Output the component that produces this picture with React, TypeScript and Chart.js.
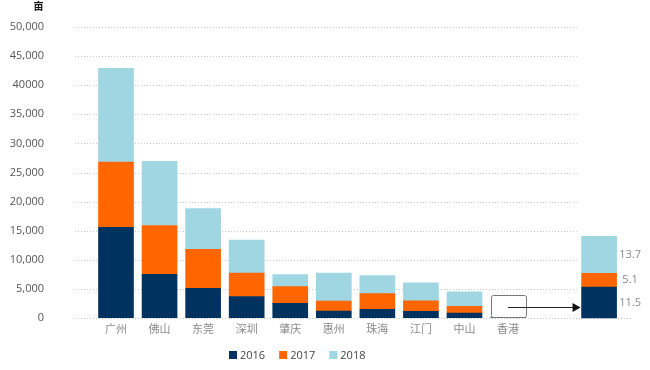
import React, { useEffect, useRef } from 'react';
import { Chart, registerables } from 'chart.js';

Chart.register(...registerables);

// ---- data ----
const cities = ['广州', '佛山', '东莞', '深圳', '肇庆', '惠州', '珠海', '江门', '中山', '香港'];
const years = ['2016', '2017', '2018'];
const v2016 = [15600, 7500, 5100, 3700, 2500, 1200, 1500, 1150, 850, 11.5];
const v2017 = [11200, 8400, 6700, 4000, 2900, 1700, 2700, 1800, 1150, 5.1];
const v2018 = [16100, 11000, 7000, 5700, 2050, 4800, 3100, 3100, 2500, 13.7];
const hkValues = [11.5, 5.1, 13.7];
const yTickLabels = ['0', '5,000', '10,000', '15,000', '20,000', '25,000', '30,000', '35,000', '40000', '45,000', '50,000'];
const unitLabel = '亩';

// ---- layout / style constants ----
const colors = ['#00325f', '#ff6600', '#9fd6e2'];
const FONT = "'Open Sans', 'Noto Sans CJK SC', sans-serif";
const X_MIN = -1.561;
const X_MAX = 12.259;
const GRID_START = -0.94;
const HK_ZOOM_X = 11.09;
const HK_SCALE_MAX = 108;
const GRID_END = 10.58;
const ZERO_LINE_END = 11.87;
const HK_BOX_TOP = 3900;
const ARROW_Y = 1900;
const BAR_W = 35;

const decor = {
  id: 'decor',
  beforeDatasetsDraw(chart: any) {
    const { ctx, scales } = chart;
    const x = scales.x;
    const y = scales.y;
    ctx.save();
    ctx.strokeStyle = '#c4c4c4';
    ctx.lineWidth = 1;
    ctx.setLineDash([1, 2]);
    const startX = x.getPixelForValue(GRID_START);
    y.ticks.forEach((t: any) => {
      const py = Math.round(y.getPixelForValue(t.value)) + 0.5;
      const endX = t.value === 0 ? x.getPixelForValue(ZERO_LINE_END) : x.getPixelForValue(GRID_END);
      ctx.beginPath();
      ctx.moveTo(startX, py);
      ctx.lineTo(endX, py);
      ctx.stroke();
    });
    ctx.restore();
  },
  afterDraw(chart: any) {
    const { ctx, scales } = chart;
    const x = scales.x;
    const y = scales.y;
    const y2 = scales.y2;
    ctx.save();

    // unit label
    ctx.fillStyle = '#111';
    ctx.font = `bold 10px ${FONT}`;
    ctx.textAlign = 'center';
    ctx.textBaseline = 'middle';
    ctx.fillText(unitLabel, 38.5, 7);

    // Hong Kong box
    const cx = x.getPixelForValue(9);
    const top = y.getPixelForValue(HK_BOX_TOP);
    const bottom = y.getPixelForValue(0);
    ctx.strokeStyle = '#777';
    ctx.lineWidth = 1;
    ctx.beginPath();
    const bx = Math.round(cx - BAR_W / 2) + 0.5;
    const by = Math.round(top) + 0.5;
    const bh = Math.round(bottom - top) - 1;
    if ((ctx as any).roundRect) {
      (ctx as any).roundRect(bx, by, BAR_W, bh, 2);
    } else {
      ctx.rect(bx, by, BAR_W, bh);
    }
    ctx.stroke();

    // arrow
    const ay = Math.round(y.getPixelForValue(ARROW_Y)) + 0.5;
    const endX = x.getPixelForValue(HK_ZOOM_X) - BAR_W / 2 - 1;
    ctx.strokeStyle = '#222';
    ctx.beginPath();
    ctx.moveTo(cx, ay);
    ctx.lineTo(endX - 6, ay);
    ctx.stroke();
    ctx.fillStyle = '#111';
    ctx.beginPath();
    ctx.moveTo(endX, ay);
    ctx.lineTo(endX - 8, ay - 4.5);
    ctx.lineTo(endX - 8, ay + 4.5);
    ctx.closePath();
    ctx.fill();

    // labels next to the zoomed bar
    ctx.fillStyle = '#888';
    ctx.font = `11px ${FONT}`;
    ctx.textAlign = 'center';
    ctx.textBaseline = 'middle';
    let cum = 0;
    const lx = x.getPixelForValue(HK_ZOOM_X) + 31;
    hkValues.forEach((v) => {
      const py = y2.getPixelForValue(cum + v / 2);
      ctx.fillText(String(v), lx, py);
      cum += v;
    });

    // legend
    let lxx = 229;
    const ly = 355;
    ctx.font = `11px ${FONT}`;
    ctx.textAlign = 'left';
    years.forEach((yr, i) => {
      ctx.fillStyle = colors[i];
      ctx.fillRect(lxx, ly - 4, 8, 8);
      ctx.fillStyle = '#444';
      ctx.fillText(yr, lxx + 11, ly + 0.5);
      lxx += 11 + ctx.measureText(yr).width + 14;
    });

    ctx.restore();
  },
};

export default function App() {
  const ref = useRef<HTMLCanvasElement | null>(null);

  useEffect(() => {
    document.body.style.margin = '0';
    if (!ref.current) return;
    const series = [v2016, v2017, v2018];
    const mainSets = series.map((vals, i) => ({
      label: years[i],
      data: vals.map((v, j) => ({ x: j, y: v })),
      backgroundColor: colors[i],
      borderWidth: 0,
      barThickness: BAR_W,
      xAxisID: 'x',
      yAxisID: 'y',
    }));
    const hkSets = hkValues.map((v, i) => ({
      label: years[i] + ' 香港',
      data: [{ x: HK_ZOOM_X, y: v }],
      backgroundColor: colors[i],
      borderWidth: 0,
      barThickness: BAR_W,
      xAxisID: 'x',
      yAxisID: 'y2',
      clip: false as any,
    }));
    const chart = new Chart(ref.current, {
      type: 'bar',
      data: { datasets: [...mainSets, ...hkSets] as any },
      options: {
        animation: false,
        responsive: false,
        maintainAspectRatio: false,
        layout: { padding: { left: 0, right: 0, top: 27, bottom: 22 } },
        plugins: { legend: { display: false }, tooltip: { enabled: false } },
        scales: {
          x: {
            type: 'linear',
            min: X_MIN,
            max: X_MAX,
            offset: false,
            stacked: true,
            grid: { display: false, drawTicks: false },
            border: { display: false },
            afterBuildTicks: (s: any) => {
              s.ticks = cities.map((_c, i) => ({ value: i }));
            },
            ticks: {
              autoSkip: false,
              padding: 5,
              color: '#8a8a8a',
              font: { size: 11, family: FONT },
              callback: (v: any) => (Number.isInteger(v) && cities[v] ? cities[v] : ''),
            },
            afterFit: (s: any) => {
              s.height = 30;
            },
          },
          y: {
            min: 0,
            max: 50000,
            stacked: true,
            grid: { display: false, drawTicks: false },
            border: { display: false },
            ticks: {
              stepSize: 5000,
              padding: 4,
              color: '#555',
              font: { size: 11, family: FONT },
              callback: (_v: any, i: number) => yTickLabels[i],
            },
            afterFit: (s: any) => {
              s.width = 48;
            },
          },
          y2: {
            display: false,
            min: 0,
            max: HK_SCALE_MAX,
            stacked: true,
          },
        },
      } as any,
      plugins: [decor],
    });
    return () => chart.destroy();
  }, []);

  return (
    <div style={{ width: 650, height: 370 }}>
      <canvas ref={ref} width={650} height={370} style={{ display: 'block', width: 650, height: 370 }} />
    </div>
  );
}
